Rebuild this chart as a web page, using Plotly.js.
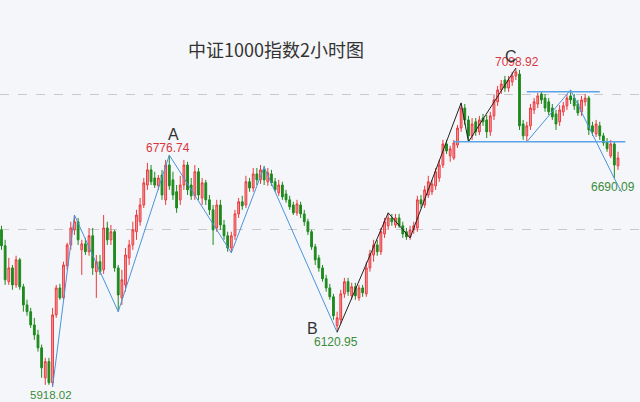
<!DOCTYPE html>
<html>
<head>
<meta charset="utf-8">
<script src="https://cdn.plot.ly/plotly-3.0.1.min.js"></script>
<style>html,body{margin:0;padding:0;background:#f5f6f9;}#chart{width:640px;height:402px;}</style>
</head>
<body>
<div id="chart"></div>
<script>
// 2-hour candles, CSI 1000 index
const openP = [6500,6441,6308,6359,6296,6389,6289,6222,6197,6148,6111,6063,5952,6012,5934,6185,6285,6248,6367,6444,
6500,6530,6426,6448,6419,6478,6345,6382,6352,6507,6463,6493,6359,6248,6296,6396,6444,6493,6530,6592,
6666,6722,6692,6663,6703,6611,6740,6685,6641,6611,6666,6740,6666,6626,6715,6618,6674,6611,6574,6507,
6592,6518,6478,6433,6478,6559,6604,6592,6678,6655,6707,6685,6722,6678,6707,6678,6637,6666,6633,6611,
6592,6563,6592,6559,6530,6493,6437,6396,6359,6319,6285,6252,6145,6167,6263,6308,6256,6289,6248,6285,
6263,6359,6407,6444,6419,6485,6515,6544,6518,6544,6515,6493,6474,6500,6507,6611,6592,6629,6641,6663,
6692,6740,6818,6774,6766,6814,6877,6951,6907,6848,6900,6863,6914,6907,6863,6922,6974,7018,7055,7025,
7048,7070,7077,6892,6848,6885,6944,6966,7003,6988,6974,6951,6929,6900,6937,6959,6996,6988,6966,6937,
6974,6988,6885,6855,6885,6848,6826,6774,6818,6737];
const highP = [6515,6463,6396,6370,6404,6396,6300,6241,6211,6174,6130,6075,6026,6026,6211,6296,6300,6382,6452,6530,
6555,6544,6463,6470,6507,6507,6407,6407,6555,6530,6518,6500,6370,6352,6433,6463,6530,6574,6618,6692,
6748,6740,6715,6703,6722,6759,6776.74,6715,6666,6700,6759,6752,6692,6740,6729,6692,6685,6629,6592,6611,
6611,6537,6493,6493,6574,6618,6626,6700,6692,6729,6729,6740,6737,6729,6722,6692,6685,6678,6648,6626,
6604,6611,6604,6574,6541,6500,6448,6407,6370,6333,6300,6263,6197,6278,6322,6322,6304,6304,6296,6296,
6382,6426,6463,6463,6507,6544,6563,6559,6559,6559,6530,6507,6515,6530,6626,6629,6663,6700,6685,6729,
6759,6833,6833,6811,6833,6888,6970,6966,6922,6914,6914,6922,6929,6925,6937,6999,7033,7055,7070,7070,
7085,7098.92,7092,6907,6900,6966,6988,7007,7014,7003,6988,6966,6944,6962,6974,7003,7018,7003,6981,6996,
7003,6996,6900,6907,6900,6859,6840,6833,6826,6789];
const lowP = [6426,6296,6296,6278,6285,6278,6197,6182,6137,6093,6049,5952,5926,5926,5918.02,6174,6241,6241,6352,6426,
6481,6444,6333,6407,6404,6333,6248,6333,6337,6444,6444,6345,6197,6222,6271,6370,6426,6463,6515,6581,
6648,6666,6655,6648,6611,6592,6648,6611,6563,6592,6648,6629,6611,6611,6611,6592,6592,6555,6444,6493,
6500,6463,6419,6415,6463,6544,6574,6581,6641,6641,6666,6670,6666,6663,6663,6641,6626,6611,6600,6574,
6555,6552,6544,6515,6481,6426,6370,6345,6308,6271,6241,6167,6120.95,6152,6248,6256,6241,6241,6237,6252,
6252,6345,6382,6404,6407,6470,6500,6515,6507,6507,6470,6463,6463,6485,6493,6581,6581,6618,6629,6648,
6678,6729,6781,6752,6759,6803,6863,6888,6826,6833,6848,6851,6885,6840,6848,6907,6959,7003,7011,7011,
7033,7055,6870,6833,6826,6870,6929,6951,6966,6937,6925,6907,6870,6885,6922,6944,6966,6944,6922,6922,
6959,6851,6848,6844,6833,6811,6789,6766,6690.09,6722];
const closeP = [6441,6315,6359,6296,6389,6289,6222,6197,6148,6111,6063,5989,6012,5934,6185,6285,6248,6370,6444,6507,
6530,6463,6448,6419,6478,6359,6382,6345,6507,6463,6493,6359,6259,6315,6407,6444,6500,6555,6592,6674,
6722,6678,6666,6692,6629,6740,6663,6629,6581,6666,6740,6648,6626,6715,6629,6674,6611,6574,6500,6592,
6518,6478,6433,6478,6559,6604,6589,6678,6655,6707,6685,6722,6685,6711,6674,6648,6666,6622,6611,6585,
6563,6596,6559,6530,6493,6437,6389,6359,6319,6285,6252,6182,6174,6263,6308,6271,6289,6256,6285,6267,
6359,6411,6444,6419,6493,6530,6544,6530,6544,6515,6485,6474,6500,6515,6611,6596,6648,6678,6670,6715,
6740,6818,6792,6800,6822,6877,6951,6907,6848,6892,6863,6907,6900,6863,6922,6981,7018,7040,7025,7055,
7070,7085,6885,6848,6885,6951,6974,6996,6981,6951,6937,6918,6892,6944,6959,6988,6981,6959,6933,6981,
6988,6870,6863,6892,6848,6822,6800,6818,6740,6766];

// zigzag pivots (candle index, price)
const wave1Idx = [14, 20, 32, 46, 63, 72, 92];
const wave1Val = [5918.02, 6555, 6197, 6776.74, 6415, 6733, 6120.95];
const wave2Idx = [92, 106, 112, 126, 128, 141];
const wave2Val = [6120.95, 6563, 6470, 6970, 6826, 7098.92];
const wave3Idx = [144, 156, 168, 170];
const wave3Val = [6826, 7018, 6690.09, 6640];
// horizontal box levels
const lowerLevel = 6826, lowerFrom = 124, lowerTo = 171;
const upperLevel = 7011, upperFrom = 144, upperTo = 164;

const titleText = '中证1000指数2小时图';
const xIdx = openP.map((_, i) => i);

const blue = '#4b93dc';
const traces = [
  {type:'candlestick', x:xIdx, open:openP, high:highP, low:lowP, close:closeP,
   increasing:{line:{color:'#ea3a3f', width:1}, fillcolor:'#f3a0a2'},
   decreasing:{line:{color:'#1e8a1e', width:1}, fillcolor:'#1e8a1e'},
   whiskerwidth:0, hoverinfo:'skip', showlegend:false},
  {type:'scatter', mode:'lines', x:wave1Idx, y:wave1Val, line:{color:blue, width:1}, hoverinfo:'skip', showlegend:false},
  {type:'scatter', mode:'lines', x:wave2Idx, y:wave2Val, line:{color:'#222222', width:1}, hoverinfo:'skip', showlegend:false},
  {type:'scatter', mode:'lines', x:wave3Idx, y:wave3Val, line:{color:blue, width:1}, hoverinfo:'skip', showlegend:false},
  {type:'scatter', mode:'lines', x:[lowerFrom, lowerTo], y:[lowerLevel, lowerLevel], line:{color:'#5ba3e6', width:1.6}, hoverinfo:'skip', showlegend:false},
  {type:'scatter', mode:'lines', x:[upperFrom, upperTo], y:[upperLevel, upperLevel], line:{color:'#5ba3e6', width:1.6}, hoverinfo:'skip', showlegend:false}
];

const red = '#d9363e', green = '#3a8c3a';
const numFont = (c) => ({family:'Liberation Sans, Arial, sans-serif', size:12, color:c});
const letterFont = {family:'Liberation Sans, Arial, sans-serif', size:16, color:'#333333'};
function ann(x, y, text, font, xs, ys) {
  return {x:x, y:y, xref:'x', yref:'y', text:text, showarrow:false, font:font, xshift:xs, yshift:ys,
          xanchor:'center', yanchor:'middle', borderpad:0};
}
const annotations = [
  ann(46, 6776.74, '6776.74', numFont(red), -1, 7),
  ann(46, 6776.74, 'A', letterFont, 4, 21),
  ann(14, 5918.02, '5918.02', {family:'Liberation Sans, Arial, sans-serif', size:11.5, color:green}, -2, -8),
  ann(92, 6120.95, '6120.95', numFont(green), -1, -9.5),
  ann(92, 6120.95, 'B', letterFont, -25, 4),
  ann(141, 7098.92, '7098.92', numFont(red), 1, 6.5),
  ann(141, 7098.92, 'C', letterFont, -5, 12),
  ann(168, 6690.09, '6690.09', numFont(green), -1, -9),
  {xref:'paper', yref:'paper', x:276/640, y:1-48.5/402, text:titleText, showarrow:false, borderpad:0,
   font:{family:'Noto Sans CJK SC, sans-serif', size:18, color:'#333333'}, xanchor:'center', yanchor:'middle'}
];

const layout = {
  width:640, height:402,
  margin:{l:0, r:0, t:0, b:0},
  paper_bgcolor:'#f5f6f9', plot_bgcolor:'#f5f6f9',
  xaxis:{range:[-0.41, 175.03], showgrid:false, zeroline:false, showticklabels:false, ticks:'', showline:false, rangeslider:{visible:false}, fixedrange:true},
  yaxis:{range:[5862.5, 7351], tickvals:[6500, 7000], showticklabels:false, ticks:'', showgrid:true, gridcolor:'#c9c9c9', griddash:'dash', gridwidth:1, zeroline:false, showline:false, fixedrange:true},
  annotations:annotations,
  showlegend:false
};

Plotly.newPlot('chart', traces, layout, {displayModeBar:false, staticPlot:true});
</script>
</body>
</html>
